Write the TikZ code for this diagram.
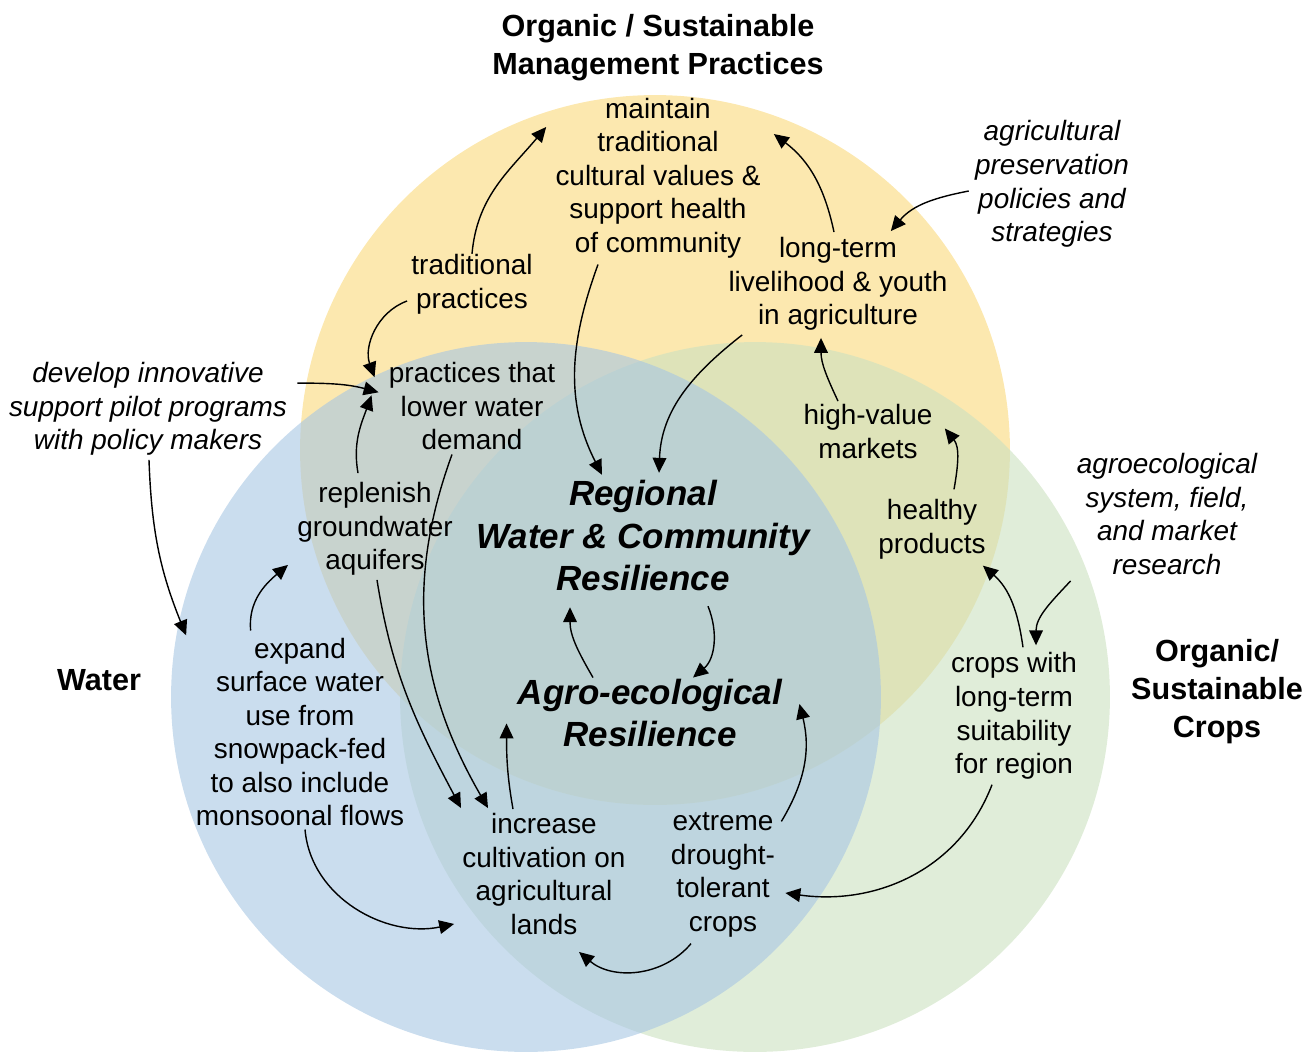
\documentclass[tikz,border=0pt]{standalone}
\usepackage{fontspec}
\setmainfont{Liberation Sans}
\usetikzlibrary{positioning}
\usetikzlibrary{calc}
\usetikzlibrary{arrows.meta}
\definecolor{mgmtfill}{RGB}{250,217,122}
\definecolor{waterfill}{RGB}{167,198,227}
\definecolor{cropsfill}{RGB}{203,225,192}

\begin{document}
\begin{tikzpicture}
			[
				x = 0.02cm, y = 0.02cm,
				mycircle/.style = {circle, inner sep = 0pt, fill opacity = 0.6, minimum size = 14.2cm},
				mytext/.style = {align = center, inner sep = 0pt, font = \fontsize{15.9}{19.1}\selectfont},
				mynote/.style = {align = center, inner sep = 0pt, font = \fontsize{15.9}{19.1}\selectfont\itshape},
				mytitle/.style = {align = center, inner sep = 0pt, font = \fontsize{17.4}{21.6}\selectfont\bfseries},
				mycore/.style = {align = center, inner sep = 0pt, font = \fontsize{19.9}{24.2}\selectfont\bfseries\itshape},
				myarrow/.style = {-{Triangle[length = 8.5pt, width = 7.8pt]}, line width = 0.8pt}
			]
			%
			\useasboundingbox (0,0) rectangle (1315,-1055);
			%
			\node (mgmt) [mycircle, fill = mgmtfill] at (655,-450) {};
			\node (crops) [mycircle, fill = cropsfill] at (755,-697) {};
			\node (water) [mycircle, fill = waterfill] at (526,-697) {};
			%
			\node (mgmtlabel) [mytitle] at (658,-48) {Organic / Sustainable\\Management Practices};
			\node (waterlabel) [mytitle] at (99,-680) {Water};
			\node (cropslabel) [mytitle] at (1217,-692) {Organic/\\Sustainable\\Crops};
			%
			\node (maint) [mytext] at (658,-178) {maintain\\traditional\\cultural values \&\\support health\\of community};
			\node (agpres) [mynote] at (1052,-184) {agricultural\\preservation\\policies and\\strategies};
			\node (trad) [mytext] at (472,-284) {traditional\\practices};
			\node (longterm) [mytext] at (838,-284) {long-term\\livelihood \& youth\\in agriculture};
			\node (develop) [mynote] at (148,-409) {develop innovative\\support pilot programs\\with policy makers};
			\node (lower) [mytext, below = 0.96cm of trad] {practices that\\lower water\\demand};
			\node (highval) [mytext] at (868,-431.5) {high-value\\markets};
			\node (replen) [mytext] at (375,-529) {replenish\\groundwater\\aquifers};
			\node (healthy) [mytext] at (932,-529.5) {healthy\\products};
			\node (agroeco) [mynote] at (1167,-514) {agroecological\\system, field,\\and market\\research};
			\node (expand) [mytext] at (300,-732) {expand\\surface water\\use from\\snowpack-fed\\to also include\\monsoonal flows};
			\node (cropswith) [mytext] at (1014,-716) {crops with\\long-term\\suitability\\for region};
			\node (increase) [mytext] at (544,-874) {increase\\cultivation on\\agricultural\\lands};
			\node (extreme) [mytext] at (723,-875) {extreme\\drought-\\tolerant\\crops};
			%
			\node (regional) [mycore] at (643,-535.5) {Regional\\Water \& Community\\Resilience};
			\node (agro) [mycore] at (650,-713) {Agro-ecological\\Resilience};
			%
			\draw [myarrow] (trad.north) to [out = 85, in = 230] ($(maint.west)+(-9,51)$);
			\draw [myarrow] ($(trad.west)+(-4,-17)$) to [out = 200, in = 110] ($(lower.north west)+(-14,-15)$);
			\draw [myarrow] ($(develop.north east)+(10,-21)$) to [out = 0, in = 165] ($(lower.west)+(-10,14)$);
			\draw [myarrow] ($(replen.north)+(-17,9)$) to [out = 100, in = 250] ($(lower.west)+(-17,11)$);
			\draw [myarrow] ($(maint.south)+(-60,-6)$) to [out = 250, in = 117] ($(regional.north)+(-41,5)$);
			%
			\draw [myarrow] ($(lower.south)+(-20,-4)$) to [out = -110, in = 120] ($(increase.north)+(-56,5)$);
			\draw [myarrow] ($(replen.south)+(2,-4)$) to [out = -81, in = 118] ($(increase.north)+(-83,5)$);
			\draw [myarrow] ($(develop.south)+(1,-4)$) to [out = -88, in = 112] ($(water.170)+(10,0)$);
			\draw [myarrow] ($(expand.north west)+(55,7)$) to [out = 95, in = 220] ($(replen.south west)+(-9,11)$);
			\draw [myarrow] ($(expand.south)+(5,-3)$) to [out = -85, in = 192] ($(increase.south west)+(-8,11)$);
			%
			\draw [myarrow] ($(increase.north)+(-31,4)$) to [out = 100, in = -90] ($(agro.south west)+(-11,24)$);
			\draw [myarrow] ($(agro.north)+(-57,1)$) to [out = 120, in = -90] ($(regional.south)+(-73,-16)$);
			\draw [myarrow] ($(regional.south)+(65,-15)$) to [out = -68, in = 40] ($(agro.north)+(43,1)$);
			\draw [myarrow] ($(extreme.north east)+(6,-9)$) to [out = 59, in = -76] ($(agro.east)+(17,9)$);
			\draw [myarrow] ($(extreme.south)+(-32,-6)$) to [out = -130, in = -40] ($(increase.south)+(35,-17)$);
			%
			\draw [myarrow] ($(cropswith.south)+(-22,-5)$) to [out = -111, in = -8] ($(extreme.east)+(10,-18)$);
			\draw [myarrow] ($(cropswith.north)+(9,5)$) to [out = 98, in = -41] ($(healthy.south east)+(-3,-6)$);
			\draw [myarrow] ($(agroeco.south west)+(-6,-6)$) to [out = -133, in = 90] ($(cropswith.north)+(22,7)$);
			\draw [myarrow] ($(healthy.north)+(22,10)$) to [out = 80, in = -51] ($(highval.east)+(12,3)$);
			\draw [myarrow] ($(highval.north)+(-30,3)$) to [out = 115, in = -90] ($(longterm.south)+(-17,-7)$);
			%
			\draw [myarrow] ($(longterm.north)+(-4,5)$) to [out = 102, in = -37] ($(maint.east)+(13,44)$);
			\draw [myarrow] ($(agpres.west)+(-6,-7)$) to [out = 191, in = 50] ($(longterm.north east)+(-57,6)$);
			\draw [myarrow] ($(longterm.south west)+(14,-4)$) to [out = -142, in = 88] ($(regional.north)+(16,7)$);
			%
		\end{tikzpicture}
\end{document}
